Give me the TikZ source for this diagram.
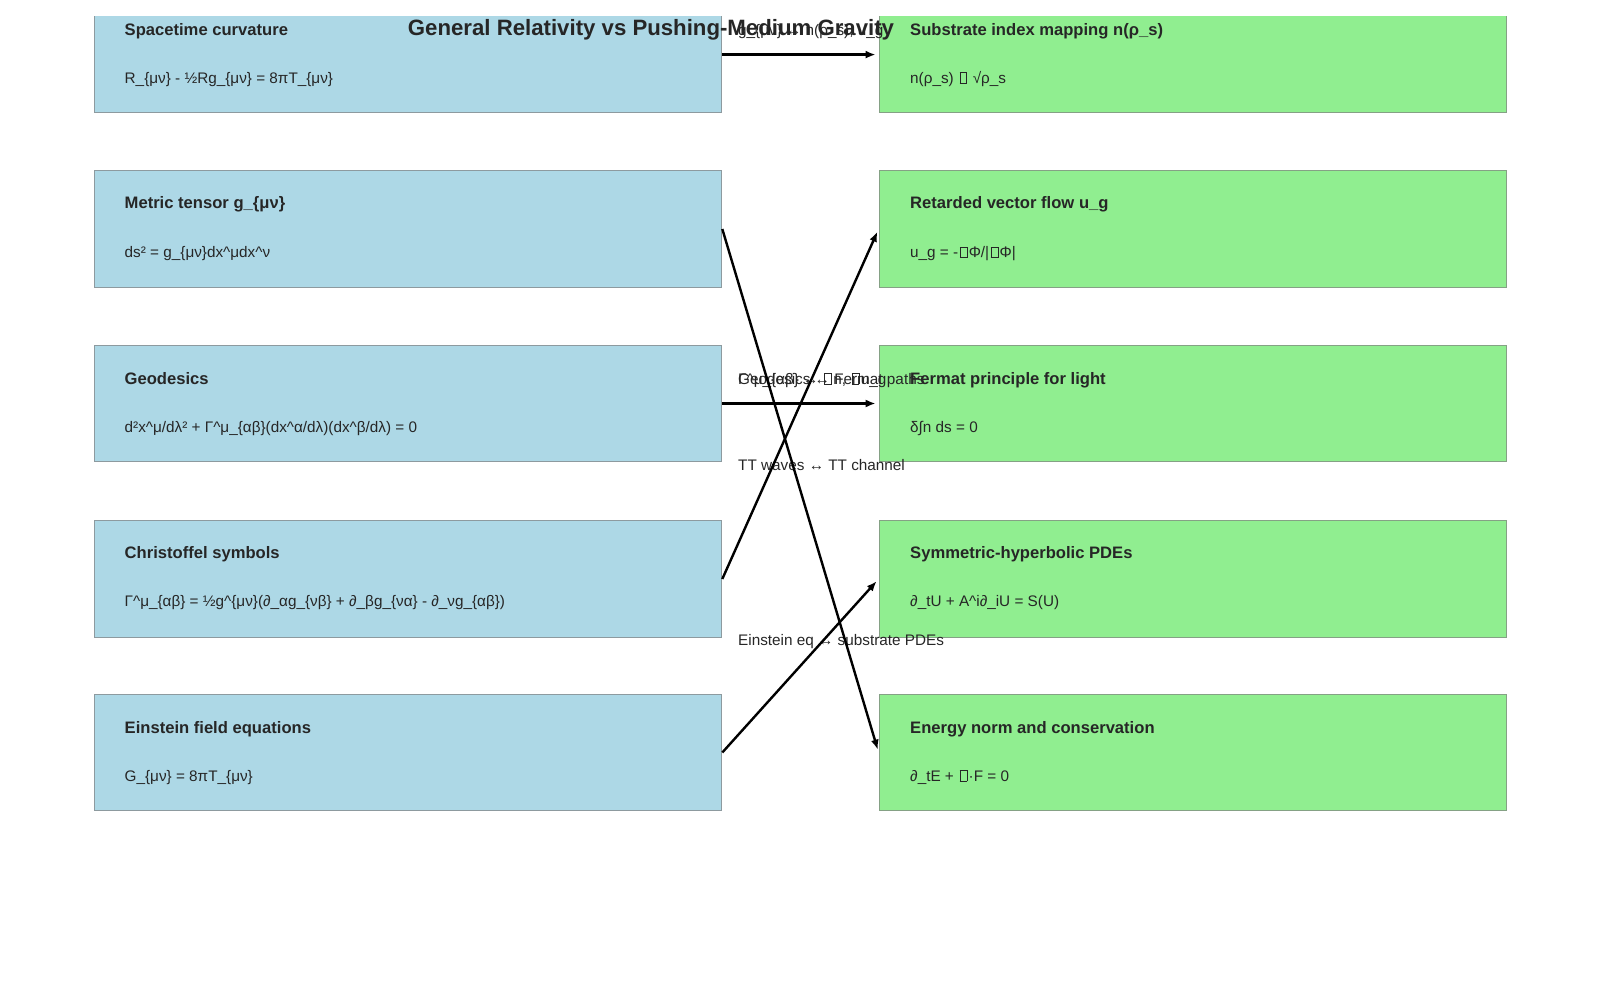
\documentclass[tikz,border=0pt]{standalone}
\usepackage{fontspec}
\setmainfont{Liberation Sans}
\usetikzlibrary{arrows.meta}
\definecolor{gbox}{HTML}{ADD8E6}
\definecolor{pbox}{HTML}{90EE90}
\definecolor{txt}{HTML}{262626}
\definecolor{gedge}{HTML}{8D9A9F}
\definecolor{pedge}{HTML}{85A185}
\newcommand\tofu{{\hspace{0.1em}\setlength\fboxsep{0pt}\setlength\fboxrule{0.5pt}\fbox{\rule{0pt}{0.68em}\hspace{0.42em}}\hspace{0.1em}}}
\newcommand\lb{\{}
\newcommand\rb{\}}
\newcommand\up{\textasciicircum}
\begin{document}
\begin{tikzpicture}[x=1pt,y=-1pt,
  grbox/.style={draw=gedge, line width=0.9pt, fill=gbox, minimum width=627.5pt, minimum height=116.3pt, inner sep=0pt, anchor=north west},
  pmbox/.style={grbox, fill=pbox, draw=pedge},
  head/.style={anchor=base west, inner sep=0pt, font=\fontsize{16.6}{19}\selectfont\bfseries, text=txt},
  eqn/.style={anchor=base west, inner sep=0pt, font=\fontsize{15.3}{18}\selectfont, text=txt},
  lab/.style={eqn},
  link/.style={-{Latex[length=10pt,width=8pt]}, line width=2.4pt, shorten >=3pt}]
\useasboundingbox (0,0) rectangle (1600,1000);
\begin{scope}
\clip (0,16.3) rectangle (1600,1000);
\foreach \i/\t in {1/-4, 2/170.4, 3/344.9, 4/520.4, 5/693.9} {
  \node[grbox] (g\i) at (93.9,\t) {};
  \node[pmbox] (p\i) at (878.6,\t) {};
}
\end{scope}
% left texts
\node[head] (gh1) at (124.5,35.6) {Spacetime curvature};
\node[eqn]  (ge1) at (124.5,83.1) {R\_\lb μν\rb{} - ½Rg\_\lb μν\rb{} = 8πT\_\lb μν\rb};
\node[head] (gh2) at (124.5,209) {Metric tensor g\_\lb μν\rb};
\node[eqn]  (ge2) at (124.5,257.5) {ds² = g\_\lb μν\rb dx\up μdx\up ν};
\node[head] (gh3) at (124.5,384.6) {Geodesics};
\node[eqn]  (ge3) at (124.5,432) {d²x\up μ/dλ² + Γ\up μ\_\lb αβ\rb(dx\up α/dλ)(dx\up β/dλ) = 0};
\node[head] (gh4) at (124.5,558) {Christoffel symbols};
\node[eqn]  (ge4) at (124.5,606.5) {Γ\up μ\_\lb αβ\rb{} = ½g\up\lb μν\rb(∂\_αg\_\lb νβ\rb{} + ∂\_βg\_\lb να\rb{} - ∂\_νg\_\lb αβ\rb)};
\node[head] (gh5) at (124.5,733.6) {Einstein field equations};
\node[eqn]  (ge5) at (124.5,781) {G\_\lb μν\rb{} = 8πT\_\lb μν\rb};
% right texts
\node[head] (ph1) at (910,35.6) {Substrate index mapping n(ρ\_s)};
\node[eqn]  (pe1) at (910,83.1) {n(ρ\_s) \tofu{} √ρ\_s};
\node[head] (ph2) at (910,209) {Retarded vector flow u\_g};
\node[eqn]  (pe2) at (910,257.5) {u\_g = -\tofu Φ/|\tofu Φ|};
\node[head] (ph3) at (910,384.6) {Fermat principle for light};
\node[eqn]  (pe3) at (910,432) {δ∫n ds = 0};
\node[head] (ph4) at (910,558) {Symmetric-hyperbolic PDEs};
\node[eqn]  (pe4) at (910,606.5) {∂\_tU + A\up i∂\_iU = S(U)};
\node[head] (ph5) at (910,733.6) {Energy norm and conservation};
\node[eqn]  (pe5) at (910,781) {∂\_tE + \tofu·F = 0};
% title
\node[font=\fontsize{22.2}{26}\selectfont\bfseries, text=txt, inner sep=0pt] (title) at (651,29.5) {General Relativity vs Pushing-Medium Gravity};
% connector labels
\node[lab] (l1) at (738,35.1) {g\_\lb μν\rb{} ↔ n(ρ\_s), u\_g};
\node[lab] (l2) at (738,384.1) {Geodesics ↔ Fermat paths};
\node[lab] (l3) at (738,384.1) {Γ\up μ\_\lb αβ\rb{} ↔ \tofu n, \tofu u\_g};
\node[lab] (l4) at (738,470.5) {TT waves ↔ TT channel};
\node[lab] (l5) at (738,645.5) {Einstein eq ↔ substrate PDEs};
% connectors
\draw[link] (g1.east) -- (p1.west);
\draw[link] (g2.east) -- (p5.west);
\draw[link] (g3.east) -- (p3.west);
\draw[link] (g4.east) -- (p2.west);
\draw[link] (g5.east) -- (p4.west);
\end{tikzpicture}
\end{document}
